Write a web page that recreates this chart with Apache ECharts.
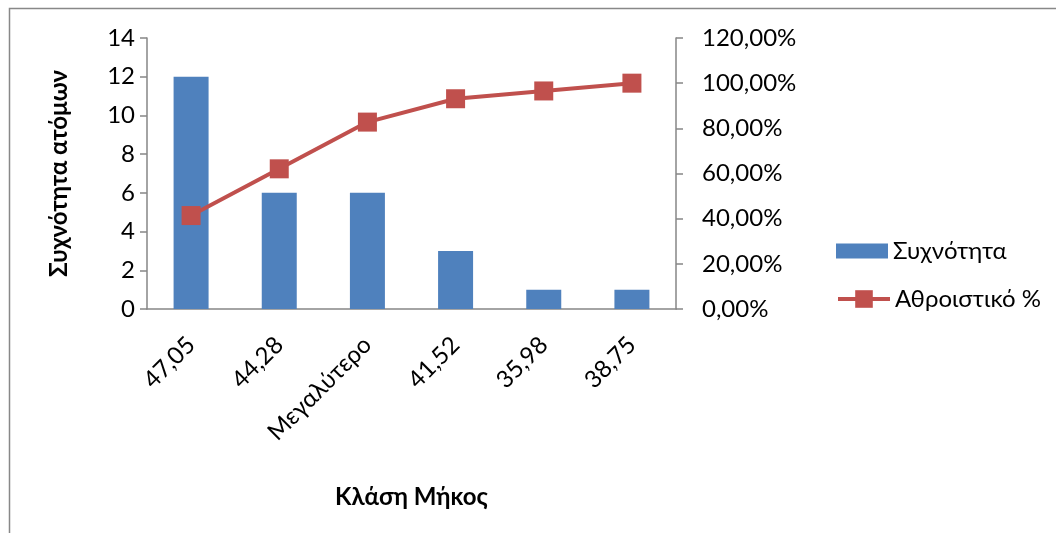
<!DOCTYPE html>
<html><head><meta charset="utf-8">
<script src="https://cdn.jsdelivr.net/npm/echarts@6/dist/echarts.min.js"></script>
<style>html,body{margin:0;padding:0;background:#fff}#c{width:1056px;height:533px}</style>
</head><body><div id="c"></div>
<script>
const categories = ['47,05', '44,28', 'Μεγαλύτερο', '41,52', '35,98', '38,75'];
const frequency = [12, 6, 6, 3, 1, 1];
const cumulativePct = [41.38, 62.07, 82.76, 93.10, 96.55, 100.00];
const leftTicks = {min: 0, max: 14, interval: 2};
const rightTicks = {min: 0, max: 120, interval: 20};

const FONT = 'Lato, "Open Sans", sans-serif';
const FS = 24;
const axisGray = '#868686';
const chart = echarts.init(document.getElementById('c'));
chart.setOption({
  animation: false,
  textStyle: {fontFamily: FONT},
  graphic: [{type: 'rect', shape: {x: 9.5, y: 8.5, width: 1100, height: 600}, style: {fill: 'none', stroke: '#888', lineWidth: 1.5}, silent: true}],
  grid: {left: 147, right: 380, top: 38, bottom: 224},
  legend: [{
    orient: 'vertical', left: 831, top: 234, itemWidth: 52, itemHeight: 15,
    textStyle: {fontSize: FS, color: '#000', fontFamily: FONT},
    data: [{name: 'Συχνότητα', icon: 'rect', itemStyle: {color: '#4F81BD'}}]
  }, {
    orient: 'vertical', left: 831, top: 282, itemWidth: 52, itemHeight: 22,
    textStyle: {fontSize: FS, color: '#000', fontFamily: FONT},
    data: [{name: 'Αθροιστικό %', lineStyle: {width: 4, color: '#C0504D'}}]
  }],
  xAxis: {
    type: 'category', data: categories,
    name: 'Κλάση Μήκος', nameLocation: 'middle', nameGap: 176,
    nameTextStyle: {fontSize: FS, fontWeight: 'bold', color: '#000', fontFamily: FONT},
    axisLine: {lineStyle: {color: axisGray, width: 1.5}},
    axisTick: {lineStyle: {color: axisGray, width: 1.5}, length: 6},
    axisLabel: {rotate: 45, fontSize: FS, color: '#000', margin: 32, fontFamily: FONT}
  },
  yAxis: [{
    type: 'value', min: leftTicks.min, max: leftTicks.max, interval: leftTicks.interval,
    name: 'Συχνότητα ατόμων', nameLocation: 'middle', nameGap: 76, nameRotate: 90,
    nameTextStyle: {fontSize: FS, fontWeight: 'bold', color: '#000', fontFamily: FONT},
    axisLine: {show: true, lineStyle: {color: axisGray, width: 1.5}},
    axisTick: {show: true, lineStyle: {color: axisGray, width: 1.5}, length: 7},
    splitLine: {show: false},
    axisLabel: {fontSize: FS, color: '#000', margin: 12, fontFamily: FONT}
  }, {
    type: 'value', min: rightTicks.min, max: rightTicks.max, interval: rightTicks.interval,
    position: 'right',
    axisLine: {show: true, lineStyle: {color: axisGray, width: 1.5}},
    axisTick: {show: true, lineStyle: {color: axisGray, width: 1.5}, length: 7},
    splitLine: {show: false},
    axisLabel: {fontSize: FS, color: '#000', margin: 26, fontFamily: FONT,
      formatter: v => v.toFixed(2).replace('.', ',') + '%'}
  }],
  series: [{
    name: 'Συχνότητα', type: 'bar', data: frequency, barWidth: 35,
    itemStyle: {color: '#4F81BD'}
  }, {
    name: 'Αθροιστικό %', type: 'line', yAxisIndex: 1, data: cumulativePct,
    symbol: 'rect', symbolSize: 19,
    lineStyle: {color: '#C0504D', width: 4},
    itemStyle: {color: '#C0504D'}
  }]
});
</script></body></html>
